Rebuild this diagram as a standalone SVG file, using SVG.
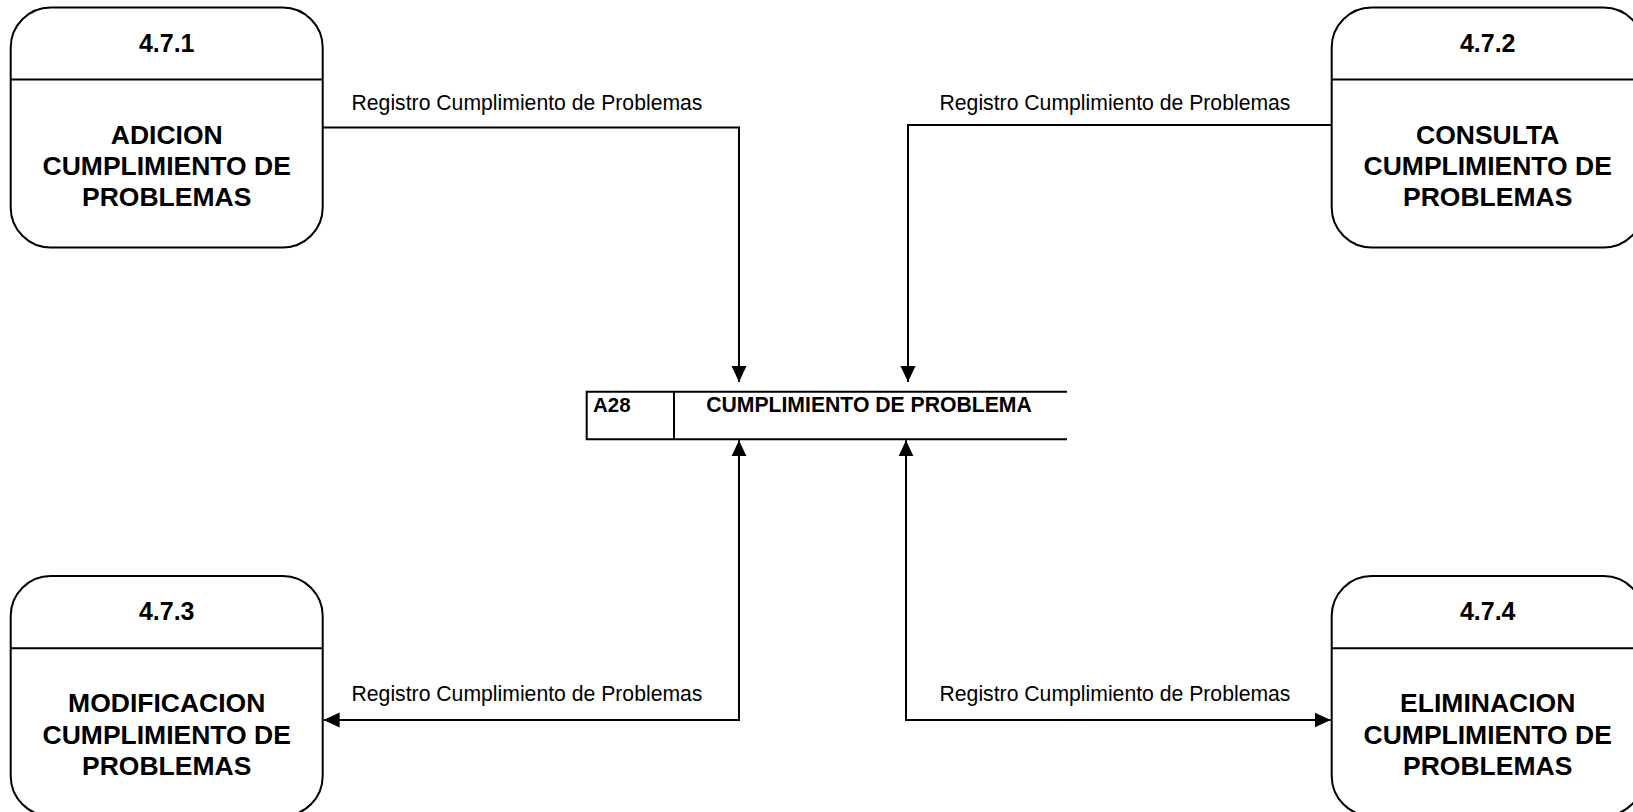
<svg xmlns="http://www.w3.org/2000/svg" width="1633" height="812" viewBox="0 0 1633 812">
<style>
.box{fill:#fff;stroke:#000;stroke-width:2}
.ln{fill:none;stroke:#000;stroke-width:2}
.num{font-family:"Liberation Sans",Arial,sans-serif;font-weight:bold;font-size:25px;text-anchor:middle;fill:#000}
.nm{font-family:"Liberation Sans",Arial,sans-serif;font-weight:bold;font-size:26.5px;text-anchor:middle;fill:#000}
.st{font-family:"Liberation Sans",Arial,sans-serif;font-weight:bold;font-size:20.5px;fill:#000}
.stt{font-family:"Liberation Sans",Arial,sans-serif;font-weight:bold;font-size:21.2px;text-anchor:middle;fill:#000}
.lbl{font-family:"Liberation Sans",Arial,sans-serif;font-size:21.2px;text-anchor:middle;fill:#000}
</style>
<defs>
<marker id="ah" markerUnits="userSpaceOnUse" markerWidth="16" markerHeight="16" viewBox="0 0 16 16" refX="16" refY="8" orient="auto-start-reverse">
<path d="M0,0.5 L16,8 L0,15.5 Z" fill="#000"/>
</marker>
</defs>
<rect width="1633" height="812" fill="#fff"/>

<g id="n471">
<rect class="box" x="10.7" y="7.5" width="312" height="240" rx="40"/>
<line class="ln" x1="10.7" y1="79.5" x2="322.7" y2="79.5"/>
<text class="num" x="166.7" y="51.5">4.7.1</text>
<text class="nm" x="166.7" y="143.5">ADICION</text>
<text class="nm" x="166.7" y="175">CUMPLIMIENTO DE</text>
<text class="nm" x="166.7" y="206">PROBLEMAS</text>
</g>

<g id="n472">
<rect class="box" x="1331.7" y="7.5" width="312" height="240" rx="40"/>
<line class="ln" x1="1331.7" y1="79.5" x2="1643.7" y2="79.5"/>
<text class="num" x="1487.7" y="51.5">4.7.2</text>
<text class="nm" x="1487.7" y="143.5">CONSULTA</text>
<text class="nm" x="1487.7" y="175">CUMPLIMIENTO DE</text>
<text class="nm" x="1487.7" y="206">PROBLEMAS</text>
</g>

<g id="n473">
<rect class="box" x="10.7" y="576" width="312" height="240" rx="40"/>
<line class="ln" x1="10.7" y1="648.3" x2="322.7" y2="648.3"/>
<text class="num" x="166.7" y="620">4.7.3</text>
<text class="nm" x="166.7" y="712">MODIFICACION</text>
<text class="nm" x="166.7" y="743.5">CUMPLIMIENTO DE</text>
<text class="nm" x="166.7" y="774.5">PROBLEMAS</text>
</g>

<g id="n474">
<rect class="box" x="1331.7" y="576" width="312" height="240" rx="40"/>
<line class="ln" x1="1331.7" y1="648.3" x2="1643.7" y2="648.3"/>
<text class="num" x="1487.7" y="620">4.7.4</text>
<text class="nm" x="1487.7" y="712">ELIMINACION</text>
<text class="nm" x="1487.7" y="743.5">CUMPLIMIENTO DE</text>
<text class="nm" x="1487.7" y="774.5">PROBLEMAS</text>
</g>

<g id="storeA28">
<path class="ln" d="M1067,391.7 H586.7 V439.3 H1067 M674,391.7 V439.3"/>
<text class="st" x="593" y="411.5">A28</text>
<text class="stt" x="869" y="411.5">CUMPLIMIENTO DE PROBLEMA</text>
</g>

<g id="connectors">
<path class="ln" d="M322.7,127.5 H739 V382" marker-end="url(#ah)"/>
<path class="ln" d="M1331.7,125 H908 V382" marker-end="url(#ah)"/>
<path class="ln" d="M739,440.3 V720 H323.7" marker-start="url(#ah)" marker-end="url(#ah)"/>
<path class="ln" d="M906,440.3 V720 H1330.7" marker-start="url(#ah)" marker-end="url(#ah)"/>
<text class="lbl" x="527" y="110">Registro Cumplimiento de Problemas</text>
<text class="lbl" x="1115" y="110">Registro Cumplimiento de Problemas</text>
<text class="lbl" x="527" y="701">Registro Cumplimiento de Problemas</text>
<text class="lbl" x="1115" y="701">Registro Cumplimiento de Problemas</text>
</g>
</svg>
